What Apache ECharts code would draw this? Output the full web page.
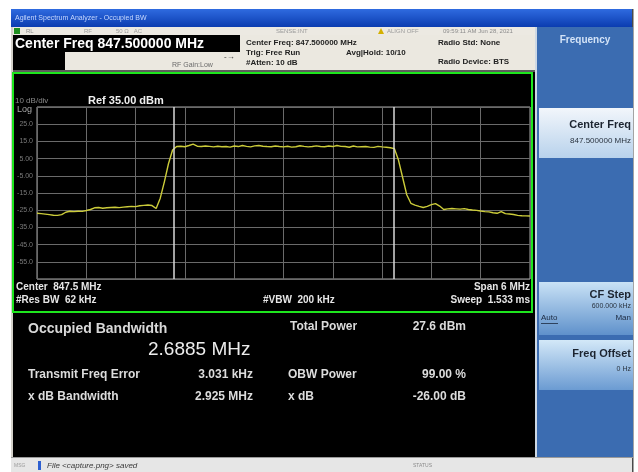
<!DOCTYPE html>
<html>
<head>
<meta charset="utf-8">
<title>Occupied BW</title>
<script src="https://cdn.jsdelivr.net/npm/echarts@6/dist/echarts.min.js"></script>
<style>
  html, body { margin: 0; padding: 0; background: #fff; }
  #main { width: 638px; height: 472px; }
</style>
</head>
<body>
<div id="main"></div>
<script>
// trace: offset from center (847.5 MHz) in kHz, one sample every 50 kHz
const startKHz = -3000
const stepKHz = 50
const traceDbm = [
  -26.8, -27.0, -27.3, -27.6, -27.9, -28.0, -27.6, -26.2, -25.6, -25.8,
  -25.6, -25.7, -25.2, -24.6, -23.6, -23.4, -23.9, -23.6, -23.4, -23.3,
  -23.5, -23.2, -23.0, -22.8, -22.9, -22.4, -22.2, -22.0, -22.3, -24.0,
  -18.0, -8.5, 2.0, 10.0, 12.0, 12.2, 11.9, 12.6, 13.4, 12.2,
  12.0, 12.3, 12.1, 11.8, 12.2, 11.9, 12.0, 11.7, 12.3, 12.0,
  12.6, 12.1, 11.8, 12.4, 12.6, 12.2, 12.0, 11.9, 12.3, 12.0,
  11.8, 12.2, 11.7, 11.9, 12.5, 12.1, 11.8, 12.0, 12.4, 12.0,
  11.9, 12.3, 12.0, 12.6, 12.1, 12.0, 11.6, 12.3, 11.8, 11.9,
  12.0, 11.7, 11.5, 12.1, 11.8, 11.6, 11.3, 10.8, 4.0, -6.0,
  -16.0, -21.0, -22.0, -22.8, -23.4, -22.8, -21.8, -21.2, -22.6, -24.6,
  -24.2, -24.0, -24.2, -24.4, -24.1, -24.6, -24.9, -25.1, -25.5, -25.8,
  -26.0, -26.5, -26.8, -25.8, -27.0, -27.2, -27.5, -28.0, -28.2, -28.3,
  -28.4
]
// occupied bandwidth edges (kHz from center)
const obwMarkersKHz = [-1341, 1347]
// y tick labels as the analyzer prints them
const yTickValues = [25, 15, 5, -5, -15, -25, -35, -45, -55]
const yTickLabels = ['25.0', '15.0', '5.00', '-5.00', '-15.0', '-25.0', '-35.0', '-45.0', '-55.0']

const chart = echarts.init(document.getElementById('main'))
const FONT = '"Liberation Sans", Arial, sans-serif'

function rect (x, y, w, h, fill, z) {
  return { type: 'rect', z: z === undefined ? -10 : z, silent: true, shape: { x: x, y: y, width: w, height: h }, style: { fill: fill } }
}
function text (x, y, str, size, color, opts) {
  opts = opts || {}
  return {
    type: 'text', z: 10, silent: true, x: x, y: y,
    style: {
      text: str,
      fill: color,
      font: (opts.italic ? 'italic ' : '') + (opts.bold ? 'bold ' : '') + size + 'px ' + FONT,
      textAlign: opts.align || 'left',
      textVerticalAlign: 'middle'
    }
  }
}
function grad (top, bottom) {
  return new echarts.graphic.LinearGradient(0, 0, 0, 1, [{ offset: 0, color: top }, { offset: 1, color: bottom }])
}

const tracePoints = traceDbm.map((v, i) => [startKHz + i * stepKHz, v])

const ui = [
  // window
  rect(0, 0, 638, 472, '#ffffff', -20),
  rect(11, 9, 622, 463, '#d4d1ca', -19),
  rect(11, 9, 622, 18, grad('#2f6be0', '#0b3cb0'), -18),
  text(15, 18, 'Agilent Spectrum Analyzer - Occupied BW', 7, '#c6d8ff'),
  rect(632, 9, 1.5, 463, '#4a4a4a', -17),
  // status row
  rect(13, 27, 524, 8, '#ece9e2'),
  rect(14, 28, 6, 6, '#1f8f1f', -9),
  text(26, 31, 'RL', 6, '#8c8c8c'),
  text(84, 31, 'RF', 6, '#9a9a9a'),
  text(116, 31, '50 Ω   AC', 6, '#9a9a9a'),
  text(276, 31, 'SENSE:INT', 6, '#9a9a9a'),
  { type: 'polygon', z: 10, silent: true, shape: { points: [[378, 34], [381, 28], [384, 34]] }, style: { fill: '#d4b000' } },
  text(387, 31, 'ALIGN OFF', 6, '#9a9a9a'),
  text(443, 31, '09:59:11 AM Jun 28, 2021', 6, '#8c8c8c'),
  // header
  rect(13, 35, 524, 35, '#ebe8e0'),
  rect(13, 35, 227, 17, '#000000', -9),
  text(15, 44, 'Center Freq 847.500000 MHz', 14, '#ffffff', { bold: true }),
  rect(13, 52, 52, 18, '#000000', -9),
  text(172, 65, 'RF Gain:Low', 7, '#6a6a6a'),
  text(224, 57, '-→', 8, '#333333'),
  text(246, 43, 'Center Freq: 847.500000 MHz', 8, '#222222', { bold: true }),
  text(246, 53, 'Trig: Free Run', 8, '#222222', { bold: true }),
  text(346, 53, 'Avg|Hold: 10/10', 8, '#222222', { bold: true }),
  text(246, 63, '#Atten: 10 dB', 8, '#222222', { bold: true }),
  text(438, 43, 'Radio Std: None', 8, '#222222', { bold: true }),
  text(438, 62, 'Radio Device: BTS', 8, '#222222', { bold: true }),
  rect(13, 70, 524, 2, '#5e5e5e'),
  // black display
  rect(13, 72, 522, 386, '#000000'),
  { type: 'rect', z: 5, silent: true, shape: { x: 13, y: 73, width: 519, height: 239 }, style: { fill: null, stroke: '#1ee61e', lineWidth: 2 } },
  text(15, 101, '10 dB/div', 8, '#8a8a8a'),
  text(17, 110, 'Log', 9, '#a8a8a8'),
  text(88, 101, 'Ref 35.00 dBm', 11, '#f0f0f0', { bold: true }),
  text(16, 287, 'Center  847.5 MHz', 10, '#e6e6e6', { bold: true }),
  text(16, 300, '#Res BW  62 kHz', 10, '#e6e6e6', { bold: true }),
  text(263, 300, '#VBW  200 kHz', 10, '#e6e6e6', { bold: true }),
  text(530, 287, 'Span 6 MHz', 10, '#e6e6e6', { bold: true, align: 'right' }),
  text(530, 300, 'Sweep  1.533 ms', 10, '#e6e6e6', { bold: true, align: 'right' }),
  // results
  text(28, 329, 'Occupied Bandwidth', 14, '#d8d8d8', { bold: true }),
  text(148, 350, '2.6885 MHz', 19, '#ececec'),
  text(28, 375, 'Transmit Freq Error', 12, '#dcdcdc', { bold: true }),
  text(253, 375, '3.031 kHz', 12, '#dcdcdc', { bold: true, align: 'right' }),
  text(28, 397, 'x dB Bandwidth', 12, '#dcdcdc', { bold: true }),
  text(253, 397, '2.925 MHz', 12, '#dcdcdc', { bold: true, align: 'right' }),
  text(290, 327, 'Total Power', 12, '#dcdcdc', { bold: true }),
  text(466, 327, '27.6 dBm', 12, '#dcdcdc', { bold: true, align: 'right' }),
  text(288, 375, 'OBW Power', 12, '#dcdcdc', { bold: true }),
  text(466, 375, '99.00 %', 12, '#dcdcdc', { bold: true, align: 'right' }),
  text(288, 397, 'x dB', 12, '#dcdcdc', { bold: true }),
  text(466, 397, '-26.00 dB', 12, '#dcdcdc', { bold: true, align: 'right' }),
  // soft key panel
  rect(535, 27, 2, 431, '#cdd8e4'),
  rect(537, 27, 96, 431, '#3b6cb1'),
  text(585, 40, 'Frequency', 10, '#d3e3f7', { bold: true, align: 'center' }),
  rect(539, 108, 94, 50, grad('#f2f6fb', '#b8d2ec'), -9),
  text(631, 125, 'Center Freq', 11, '#1c2430', { bold: true, align: 'right' }),
  text(631, 141, '847.500000 MHz', 8, '#2a3440', { align: 'right' }),
  rect(539, 282, 94, 53, grad('#c9e2f6', '#5f91cb'), -9),
  text(631, 295, 'CF Step', 11, '#1c2430', { bold: true, align: 'right' }),
  text(631, 306, '600.000 kHz', 7, '#2a3440', { align: 'right' }),
  text(541, 318, 'Auto', 8, '#1c2a40'),
  { type: 'rect', z: 10, silent: true, shape: { x: 541, y: 323, width: 17, height: 0.8 }, style: { fill: '#1c2a40' } },
  text(631, 318, 'Man', 8, '#1c2a40', { align: 'right' }),
  rect(539, 340, 94, 50, grad('#d3e8f8', '#6b9bd2'), -9),
  text(631, 354, 'Freq Offset', 11, '#1c2430', { bold: true, align: 'right' }),
  text(631, 369, '0 Hz', 7, '#2a3440', { align: 'right' }),
  // message bar
  rect(11, 457, 622, 1, '#9a9a9a'),
  rect(11, 458, 621, 14, '#e6e6e6'),
  text(14, 466, 'MSG', 5, '#9a9a9a'),
  rect(38, 461, 3, 9, '#2d5fd0', -9),
  text(47, 466, 'File <capture.png> saved', 8, '#3a3a3a', { italic: true }),
  text(413, 466, 'STATUS', 5, '#8a8a8a')
]

const option = {
  backgroundColor: '#ffffff',
  animation: false,
  textStyle: { fontFamily: FONT },
  grid: { left: 37, top: 107, width: 493, height: 172, show: true, borderColor: '#a8a8a8', borderWidth: 1 },
  xAxis: {
    type: 'value', min: -3000, max: 3000, interval: 600,
    axisLine: { show: false }, axisTick: { show: false }, axisLabel: { show: false },
    splitLine: { lineStyle: { color: '#6a6a6a', width: 1 } }
  },
  yAxis: {
    type: 'value', min: -65, max: 35, interval: 10,
    axisLine: { show: false }, axisTick: { show: false },
    axisLabel: {
      margin: 4, fontSize: 7, color: '#7a7a7a',
      formatter: function (v) {
        const i = yTickValues.indexOf(Math.round(v))
        return i < 0 ? '' : yTickLabels[i]
      }
    },
    splitLine: { lineStyle: { color: '#6a6a6a', width: 1 } }
  },
  series: [{
    type: 'line',
    data: tracePoints,
    symbol: 'none',
    lineStyle: { color: '#cccc3a', width: 1.4 },
    markLine: {
      silent: true,
      symbol: 'none',
      label: { show: false },
      lineStyle: { color: '#d8d8d8', width: 1.5, type: 'solid' },
      data: obwMarkersKHz.map(v => ({ xAxis: v }))
    }
  }],
  graphic: { elements: ui }
}

chart.setOption(option)
</script>
</body>
</html>
